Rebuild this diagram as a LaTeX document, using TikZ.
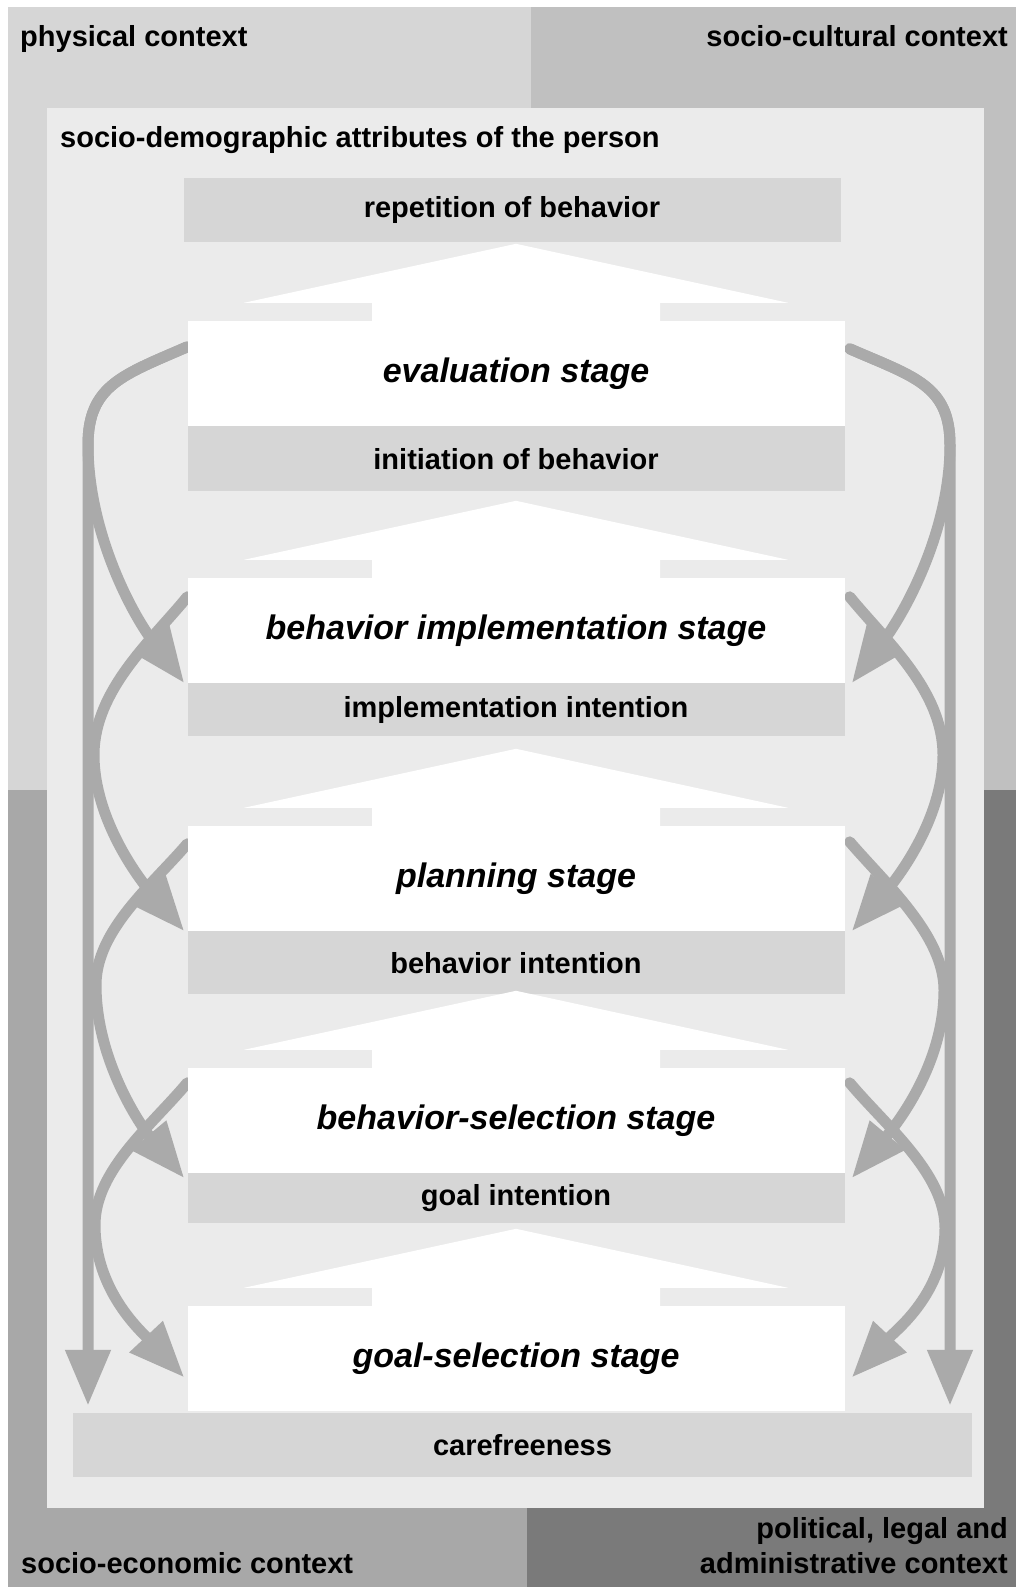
\documentclass[tikz,border=0pt]{standalone}
\usepackage{fontspec}
\setmainfont{Liberation Sans}
\usetikzlibrary{arrows.meta,positioning,calc,backgrounds}

\definecolor{physgray}{HTML}{D6D6D6}
\definecolor{cultgray}{HTML}{C0C0C0}
\definecolor{econgray}{HTML}{A8A8A8}
\definecolor{polgray}{HTML}{7A7A7A}
\definecolor{persongray}{HTML}{EBEBEB}
\definecolor{bargray}{HTML}{D6D6D6}
\definecolor{flowgray}{HTML}{AAAAAA}

\tikzset{
  stage/.style={rectangle, fill=white, inner sep=0pt, minimum width=657pt,
    minimum height=105pt, font=\bfseries\itshape\fontsize{34}{40}\selectfont},
  bar/.style={rectangle, fill=bargray, inner sep=0pt, minimum width=657pt,
    font=\bfseries\fontsize{29}{34}\selectfont},
  ctx/.style={inner sep=0pt, font=\bfseries\fontsize{29}{35}\selectfont},
  flow/.style={draw=flowgray, line width=11pt, line cap=round,
    -{Triangle[length=56pt,width=43pt]}},
}

\begin{document}
\begin{tikzpicture}[x=1pt,y=-1pt]
\useasboundingbox (0,0) rectangle (1016,1587);

% context quadrants and the person frame
\begin{scope}[on background layer]
  \fill[white] (0,0) rectangle (1016,1587);
  \fill[physgray] (8,7) rectangle (531,790);
  \fill[cultgray] (531,7) rectangle (1016,790);
  \fill[econgray] (8,790) rectangle (527,1587);
  \fill[polgray] (527,790) rectangle (1016,1587);
  \fill[persongray] (47,108) rectangle (984,1508);
\end{scope}

\node[ctx, anchor=base west] (phys) at (20,47) {physical context};
\node[ctx, anchor=base east] (cult) at (1008,47) {socio-cultural context};
\node[ctx, anchor=base west] (person) at (60,147) {socio-demographic attributes of the person};
\node[ctx, anchor=base west] (econ) at (21,1573) {socio-economic context};
\node[ctx, anchor=north east, align=right] (pol) at (1008,1517) {political, legal and\\administrative context};

% stages with their outcome bars
\node[bar, minimum height=64pt] (rep) at (512,210) {repetition of behavior};
\node[stage] (eval) at (516,373.5) {evaluation stage};
\node[bar, minimum height=65pt, below=0pt of eval] (init) {initiation of behavior};
\node[stage] (impl) at (516,630.5) {behavior implementation stage};
\node[bar, minimum height=53pt, below=0pt of impl] (implint) {implementation intention};
\node[stage] (plan) at (516,878.5) {planning stage};
\node[bar, minimum height=63pt, below=0pt of plan] (behint) {behavior intention};
\node[stage] (bsel) at (516,1120.5) {behavior-selection stage};
\node[bar, minimum height=50pt, below=0pt of bsel] (goalint) {goal intention};
\node[stage] (gsel) at (516,1358.5) {goal-selection stage};
\node[bar, minimum height=64pt, minimum width=899pt] (care) at (522.5,1445) {carefreeness};

% big white arrows on top of each stage
\foreach \s in {eval,impl,plan,bsel,gsel}
  \fill[white] ($(\s.north)+(-144,2)$) -- ++(0,-20) -- ++(-128,0)
    -- ($(\s.north)+(0,-77)$) -- ($(\s.north)+(272,-18)$) -- ++(-128,0)
    -- ($(\s.north)+(144,2)$) -- cycle;

\coordinate (railL) at (88,445);
\coordinate (railR) at (950,445);

% feedback loops, left side
\begin{scope}[on background layer]
  \draw[flow] ($(eval.north west)+(0,26)$) .. controls +(-64,28) and +(0,-60) .. (railL)
    -- ([yshift=7pt]railL |- care.north);
  \draw[flow] ($(eval.north west)+(0,26)$) .. controls +(-64,28) and +(0,-60) .. (railL)
    .. controls +(0,85) and +(-54,-72) .. ($(impl.south west)+(-3,0)$);
  \draw[flow] ($(impl.north west)+(0,19)$) .. controls +(-35,43) and +(0,-65) .. (94,755)
    .. controls +(0,65) and +(-44,-51) .. ($(plan.south west)+(-3,0)$);
  \draw[flow] ($(plan.north west)+(0,18)$) .. controls +(-35,41) and +(0,-55) .. (96,985)
    .. controls +(0,75) and +(-44,-53) .. ($(bsel.south west)+(-3,5)$);
  \draw[flow] ($(bsel.north west)+(0,15)$) .. controls +(-35,42) and +(0,-55) .. (95,1225)
    .. controls +(0,65) and +(-44,-47) .. ($(gsel.west)+(-3,19)$);

% feedback loops, right side
  \draw[flow] ($(eval.north east)+(5,28)$) .. controls +(64,28) and +(0,-60) .. (railR)
    -- ([yshift=7pt]railR |- care.north);
  \draw[flow] ($(eval.north east)+(5,28)$) .. controls +(64,28) and +(0,-60) .. (railR)
    .. controls +(0,85) and +(54,-72) .. ($(impl.south east)+(7,0)$);
  \draw[flow] ($(impl.north east)+(5,19)$) .. controls +(35,43) and +(0,-65) .. (943,755)
    .. controls +(0,65) and +(44,-51) .. ($(plan.south east)+(7,0)$);
  \draw[flow] ($(plan.north east)+(5,16)$) .. controls +(35,41) and +(0,-55) .. (944,990)
    .. controls +(0,75) and +(44,-53) .. ($(bsel.south east)+(7,5)$);
  \draw[flow] ($(bsel.north east)+(5,15)$) .. controls +(35,42) and +(0,-55) .. (945,1228)
    .. controls +(0,65) and +(44,-47) .. ($(gsel.east)+(7,19)$);
\end{scope}
\end{tikzpicture}
\end{document}
